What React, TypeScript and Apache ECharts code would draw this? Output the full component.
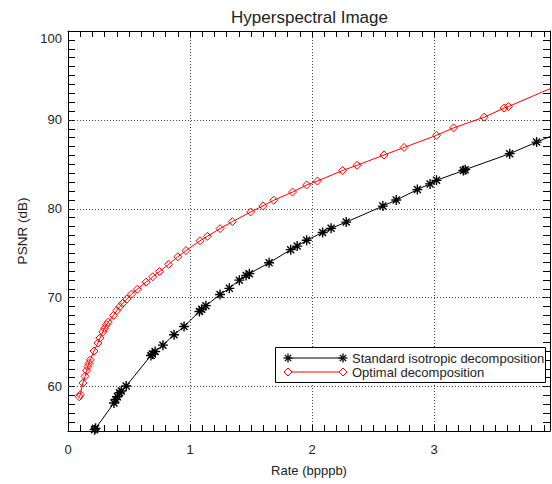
import React, { useEffect, useRef } from "react";
import * as echarts from "echarts";

// ---- data ----
const standardRate = [
  0.218, 0.226, 0.377, 0.392, 0.405, 0.423, 0.437, 0.477, 0.68, 0.692, 0.714, 0.778,
  0.869, 0.951, 1.077, 1.096, 1.13, 1.246, 1.322, 1.404, 1.46, 1.486, 1.648, 1.825,
  1.878, 1.956, 2.087, 2.156, 2.28, 2.58, 2.69, 2.863, 2.967, 3.02, 3.24, 3.255,
  3.62, 3.84, 4.05,
];
const standardPsnr = [
  55.15, 55.3, 58.15, 58.55, 58.85, 59.3, 59.5, 60.06, 63.5, 63.65, 63.95, 64.66,
  65.83, 66.75, 68.45, 68.7, 69.1, 70.35, 71.05, 71.97, 72.5, 72.7, 73.92, 75.4,
  75.8, 76.46, 77.33, 77.8, 78.5, 80.3, 80.98, 82.16, 82.8, 83.2, 84.3, 84.4,
  86.2, 87.5, 88.7,
];
const optimalRate = [
  0.092, 0.1, 0.122, 0.14, 0.153, 0.163, 0.172, 0.183, 0.213, 0.245, 0.262, 0.285,
  0.3, 0.315, 0.33, 0.372, 0.4, 0.425, 0.447, 0.482, 0.52, 0.568, 0.64, 0.695,
  0.75, 0.825, 0.9, 0.967, 1.082, 1.142, 1.246, 1.347, 1.497, 1.598, 1.686, 1.84,
  1.956, 2.044, 2.25, 2.37, 2.59, 2.754, 3.02, 3.16, 3.41, 3.574, 3.61, 4.1,
];
const optimalPsnr = [
  58.85, 59.1, 60.4, 61.15, 61.8, 62.25, 62.6, 63.0, 64.0, 64.9, 65.45, 66.15,
  66.55, 66.95, 67.25, 68.0, 68.55, 69.0, 69.35, 69.85, 70.4, 70.95, 71.75, 72.35,
  72.95, 73.75, 74.6, 75.3, 76.4, 76.9, 77.77, 78.55, 79.64, 80.33, 80.96, 81.88,
  82.68, 83.12, 84.3, 84.9, 86.05, 86.9, 88.26, 89.1, 90.3, 91.33, 91.5, 94.4,
];
const xTickLabels = [0, 1, 2, 3];
const yTickLabels = [60, 70, 80, 90, 100];
const yGridValues = [60, 70, 80, 90];

const seriesNames = ["Standard isotropic decomposition", "Optimal decomposition"];
const titleText = "Hyperspectral Image";
const xName = "Rate (bpppb)";
const yName = "PSNR (dB)";

const FONT = '"Liberation Sans", Arial, Helvetica, sans-serif';
const TXT = "#222";
const ASTERISK = "path://M10 0L10 20M0 10L20 10M3 3L17 17M3 17L17 3";

const zip = (a: number[], b: number[]) => a.map((v, i) => [v, b[i]]);

function asteriskGraphic(cx: number, cy: number, r: number) {
  const d = r * 0.7;
  const segs = [
    [cx, cy - r, cx, cy + r],
    [cx - r, cy, cx + r, cy],
    [cx - d, cy - d, cx + d, cy + d],
    [cx - d, cy + d, cx + d, cy - d],
  ];
  return segs.map((s) => ({
    type: "line",
    z: 20,
    shape: { x1: s[0], y1: s[1], x2: s[2], y2: s[3] },
    style: { stroke: "#000", lineWidth: 1.3 },
  }));
}
function diamondGraphic(cx: number, cy: number, r: number) {
  return {
    type: "polygon",
    z: 20,
    shape: { points: [[cx, cy - r], [cx + r, cy], [cx, cy + r], [cx - r, cy]] },
    style: { fill: "#fff", stroke: "#ff0000", lineWidth: 1 },
  };
}

export default function App() {
  const ref = useRef<HTMLDivElement>(null);
  useEffect(() => {
    if (!ref.current) return;
    const chart = echarts.init(ref.current, undefined, { renderer: "svg" });
    const tickAxisCommon = {
      type: "value",
      axisLabel: { show: false },
      splitLine: { show: false },
    };
    const row1 = 358;
    const row2 = 372;
    const lx1 = 288;
    const lx2 = 343;
    const labelStyle = { color: TXT, fontSize: 13, fontFamily: FONT };
    const option: any = {
      animation: false,
      backgroundColor: "#fff",
      grid: { left: 68, right: 2, top: 31, bottom: 53, containLabel: false },
      xAxis: [
        {
          type: "value",
          position: "bottom",
          min: 0,
          max: 3.95,
          interval: 1,
          axisLine: { show: true, onZero: false, lineStyle: { color: "#000", width: 1 } },
          axisTick: { show: false },
          axisLabel: {
            show: true,
            margin: 12,
            ...labelStyle,
            showMaxLabel: false,
            formatter: (v: number) => (xTickLabels.includes(v) ? String(v) : ""),
          },
          splitLine: { show: true, lineStyle: { color: "#444", type: [1, 2], width: 1 } },
          name: xName,
          nameLocation: "middle",
          nameGap: 33,
          nameTextStyle: { color: TXT, fontSize: 13, fontFamily: FONT },
        },
        {
          ...tickAxisCommon,
          position: "bottom",
          min: 0,
          max: 3.95,
          interval: 0.1,
          axisLine: { show: false, onZero: false },
          axisTick: { show: true, inside: true, length: 6, lineStyle: { color: "#000" } },
        },
        {
          ...tickAxisCommon,
          position: "top",
          min: 0,
          max: 3.95,
          interval: 0.1,
          axisLine: { show: true, onZero: false, lineStyle: { color: "#000", width: 1 } },
          axisTick: { show: true, inside: true, length: 6, lineStyle: { color: "#000" } },
        },
      ],
      yAxis: [
        {
          type: "value",
          position: "left",
          min: 55,
          max: 100,
          interval: 5,
          axisLine: { show: true, onZero: false, lineStyle: { color: "#000", width: 1 } },
          axisTick: { show: true, inside: true, length: 7, lineStyle: { color: "#000" } },
          minorTick: { show: true, splitNumber: 5, length: 7, lineStyle: { color: "#000" } },
          axisLabel: {
            show: true,
            margin: 6,
            ...labelStyle,
            formatter: (v: number) => {
              if (!yTickLabels.includes(v)) return "";
              return v === 100 ? "{top|" + v + "}" : String(v);
            },
            rich: {
              top: { ...labelStyle, padding: [15, 0, 0, 0] },
            },
          },
          splitLine: { show: false },
          name: yName,
          nameLocation: "middle",
          nameGap: 39,
          nameRotate: 90,
          nameTextStyle: { color: TXT, fontSize: 13.5, fontFamily: FONT },
        },
        {
          ...tickAxisCommon,
          position: "right",
          min: 55,
          max: 100,
          interval: 5,
          axisLine: { show: true, onZero: false, lineStyle: { color: "#000", width: 1 } },
          axisTick: { show: true, inside: true, length: 7, lineStyle: { color: "#000" } },
          minorTick: { show: true, splitNumber: 5, length: 7, lineStyle: { color: "#000" } },
        },
      ],
      series: [
        {
          type: "line",
          name: seriesNames[0],
          xAxisIndex: 0,
          yAxisIndex: 0,
          data: zip(standardRate, standardPsnr),
          symbol: ASTERISK,
          symbolSize: 10,
          showAllSymbol: true,
          clip: true,
          z: 4,
          lineStyle: { color: "#000", width: 1 },
          itemStyle: { color: "#000", borderColor: "#000", borderWidth: 1.4 },
          markLine: {
            silent: true,
            symbol: ["none", "none"],
            label: { show: false },
            z: 1,
            lineStyle: { color: "#444", type: [1, 2], width: 1 },
            data: yGridValues.map((v) => ({ yAxis: v })),
          },
        },
        {
          type: "line",
          name: seriesNames[1],
          xAxisIndex: 0,
          yAxisIndex: 0,
          data: zip(optimalRate, optimalPsnr),
          symbol: "diamond",
          symbolSize: 8,
          showAllSymbol: true,
          clip: true,
          z: 4,
          lineStyle: { color: "#ff0000", width: 1 },
          itemStyle: { color: "rgba(255,255,255,0)", borderColor: "#ff0000", borderWidth: 1 },
        },
      ],
      graphic: [
        {
          type: "text",
          z: 20,
          x: 309.5,
          y: 17,
          style: {
            text: titleText,
            fontSize: 17,
            fontFamily: FONT,
            fill: TXT,
            align: "center",
            verticalAlign: "middle",
          },
        },
        {
          type: "rect",
          z: 19,
          shape: { x: 275.5, y: 347.5, width: 270, height: 35 },
          style: { fill: "#fff", stroke: "#000", lineWidth: 1 },
        },
        {
          type: "line",
          z: 20,
          shape: { x1: lx1, y1: row1, x2: lx2, y2: row1 },
          style: { stroke: "#000", lineWidth: 1 },
        },
        ...asteriskGraphic(lx1, row1, 4.5),
        ...asteriskGraphic(lx2, row1, 4.5),
        {
          type: "line",
          z: 20,
          shape: { x1: lx1, y1: row2, x2: lx2, y2: row2 },
          style: { stroke: "#ff0000", lineWidth: 1 },
        },
        diamondGraphic(lx1, row2, 4),
        diamondGraphic(lx2, row2, 4),
        {
          type: "text",
          z: 20,
          x: 352,
          y: row1,
          style: { text: seriesNames[0], fontSize: 13, fontFamily: FONT, fill: TXT, verticalAlign: "middle" },
        },
        {
          type: "text",
          z: 20,
          x: 352,
          y: row2,
          style: { text: seriesNames[1], fontSize: 13, fontFamily: FONT, fill: TXT, verticalAlign: "middle" },
        },
      ],
    };
    chart.setOption(option);
    return () => chart.dispose();
  }, []);
  return (
    <div
      ref={ref}
      style={{ position: "fixed", left: 0, top: 0, width: 552, height: 484, background: "#fff" }}
    />
  );
}
